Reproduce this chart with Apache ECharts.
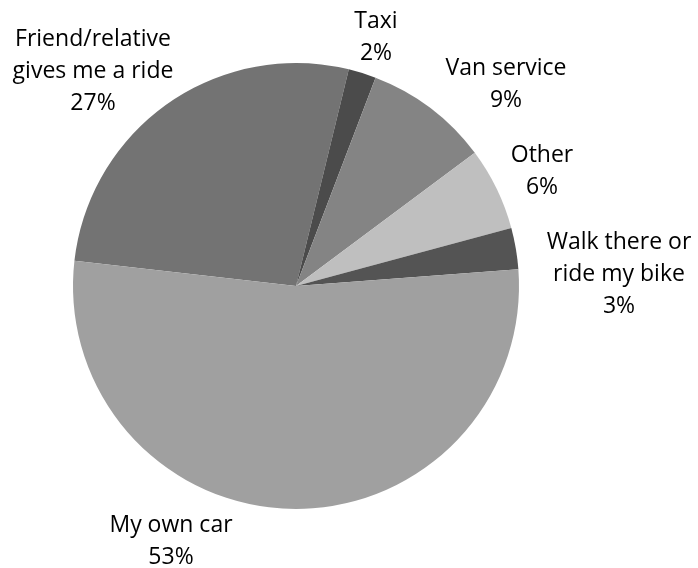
<!DOCTYPE html>
<html>
<head>
<meta charset="utf-8">
<script src="https://cdn.jsdelivr.net/npm/echarts@6/dist/echarts.min.js"></script>
<style>html,body{margin:0;padding:0;background:#fff;}#c{width:698px;height:568px;}</style>
</head>
<body>
<div id="c"></div>
<script>
var categories = ["Friend/relative\ngives me a ride", "Taxi", "Van service", "Other", "Walk there or\nride my bike", "My own car"];
var values = [27, 2, 9, 6, 3, 53];
var colors = ["#737373", "#4b4b4b", "#848484", "#bfbfbf", "#545454", "#a0a0a0"];
// label block centers (layout)
var labelPos = [[93, 71], [376, 37], [506, 84], [542, 171], [619, 274], [171, 541]];

var chart = echarts.init(document.getElementById('c'));
chart.setOption({
  backgroundColor: '#ffffff',
  animation: false,
  series: [{
    type: 'pie',
    center: [296, 286],
    radius: 223,
    startAngle: 173.5,
    clockwise: true,
    percentPrecision: 0,
    avoidLabelOverlap: false,
    data: categories.map(function (n, i) {
      return { name: n, value: values[i], itemStyle: { color: colors[i] } };
    }),
    itemStyle: { borderWidth: 0 },
    label: {
      show: true,
      position: 'outside',
      formatter: '{b}\n{d}%',
      fontFamily: 'Open Sans',
      fontSize: 23,
      lineHeight: 32,
      color: '#000',
      align: 'center'
    },
    labelLine: { show: false },
    labelLayout: function (p) {
      var pos = labelPos[p.dataIndex];
      return { x: pos[0], y: pos[1], align: 'center', verticalAlign: 'middle' };
    }
  }]
});
</script>
</body>
</html>
